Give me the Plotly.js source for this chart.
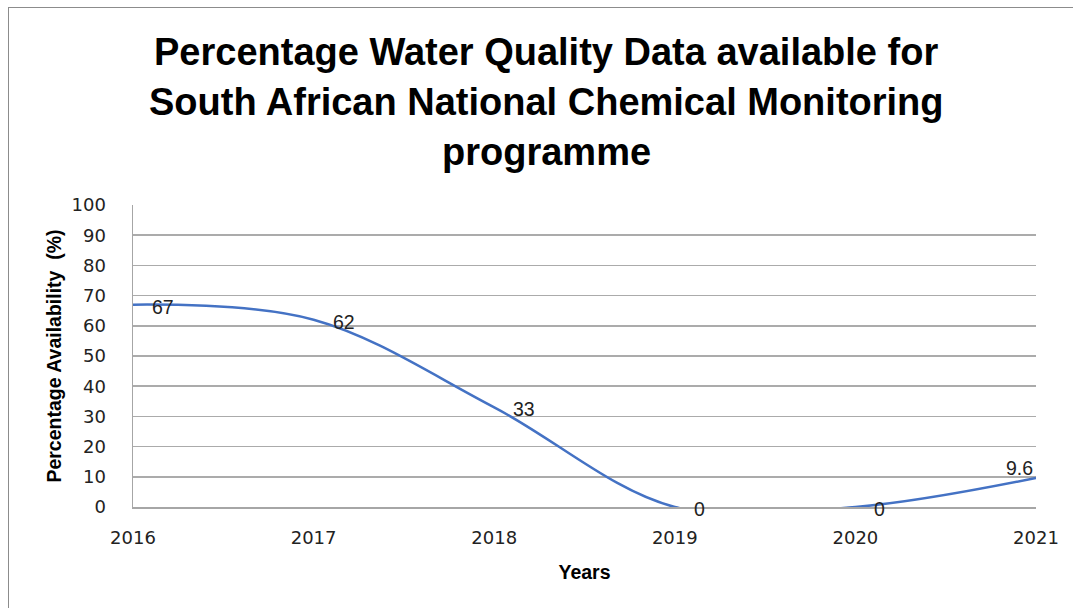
<!DOCTYPE html>
<html>
<head>
<meta charset="utf-8">
<script src="https://cdn.plot.ly/plotly-3.0.1.min.js"></script>
<style>
html,body{margin:0;padding:0;background:#fff;overflow:hidden;}
#frame{position:absolute;left:8px;top:7px;width:1200px;height:700px;border-left:1px solid #8c8c8c;border-top:1px solid #8c8c8c;}
#chart{position:absolute;left:0;top:0;width:1073px;height:608px;}
</style>
</head>
<body>
<div id="frame"></div>
<div id="chart"></div>
<script>
const years = [2016, 2017, 2018, 2019, 2020, 2021];
const availability = [67, 62, 33, 0, 0, 9.6];
const labels = ['67', '62', '33', '0', '0', '9.6'];
const titleLines = [
  'Percentage Water Quality Data available for',
  'South African National Chemical Monitoring',
  'programme'
];
const yTicks = [0,10,20,30,40,50,60,70,80,90,100];

const trace = {
  x: years, y: availability, type: 'scatter', mode: 'lines',
  line: {color: '#4472C4', width: 2.5, shape: 'spline', smoothing: 1},
  hoverinfo: 'skip', cliponaxis: true
};

const labelAnn = years.map((yr, i) => {
  const last = i === years.length - 1;
  return {
    x: yr, y: availability[i], xref: 'x', yref: 'y', text: labels[i],
    showarrow: false, xanchor: last ? 'center' : 'left', yanchor: 'middle',
    xshift: last ? -17 : 17, yshift: last ? 10 : -2,
    font: {family: 'Liberation Sans, Arial, sans-serif', size: 19.5, color: '#222'}
  };
});

const titleY = [52, 102, 152];
const titleAnn = titleLines.map((t, i) => ({
  text: '<b>' + t + '</b>', xref: 'paper', yref: 'paper',
  x: (546 - 133) / (1036 - 133), y: (507 - titleY[i]) / (507 - 205),
  xanchor: 'center', yanchor: 'middle', showarrow: false,
  font: {family: 'Liberation Sans, Arial, sans-serif', size: 38, color: '#000'}
}));

const layout = {
  width: 1073, height: 608,
  margin: {l: 133, r: 37, t: 205, b: 101, pad: 0},
  paper_bgcolor: 'rgba(0,0,0,0)', plot_bgcolor: 'rgba(0,0,0,0)',
  showlegend: false,
  xaxis: {
    range: [2016, 2021], tickvals: years, ticktext: years.map(String),
    showgrid: false, zeroline: false, showline: true, linecolor: '#a6a6a6', linewidth: 1.5,
    ticks: '', ticklabelstandoff: 14,
    tickfont: {family: 'DejaVu Sans, Verdana, sans-serif', size: 18, color: '#222'},
    title: {text: '<b>Years</b>', standoff: 18,
      font: {family: 'Liberation Sans, Arial, sans-serif', size: 19.5, color: '#000'}}
  },
  yaxis: {
    range: [0, 100], tickvals: yTicks, showgrid: true, gridcolor: '#ababab', gridwidth: 1.5,
    zeroline: false, showline: true, linecolor: '#a6a6a6', linewidth: 1.5,
    ticks: '', ticklabelstandoff: 22,
    tickfont: {family: 'DejaVu Sans, Verdana, sans-serif', size: 18, color: '#222'},
    title: {text: '<b>Percentage Availability  (%)</b>', standoff: 4,
      font: {family: 'Liberation Sans, Arial, sans-serif', size: 19.5, color: '#000'}}
  },
  annotations: titleAnn.concat(labelAnn)
};

Plotly.newPlot('chart', [trace], layout, {staticPlot: true, displayModeBar: false});
</script>
</body>
</html>
